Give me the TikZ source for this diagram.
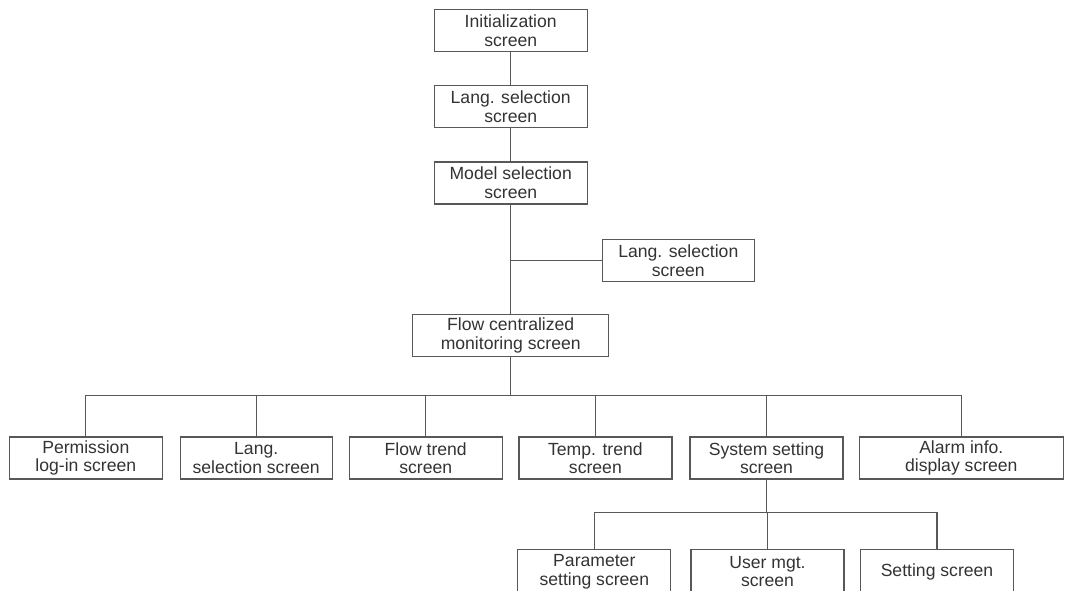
\documentclass[tikz,border=0pt]{standalone}
\usepackage{fontspec}
\setmainfont{Liberation Sans}
\definecolor{linegray}{HTML}{585858}
\definecolor{textgray}{HTML}{333333}
\tikzset{
    screen/.style={draw=linegray, line width=1.2pt, text=textgray, align=center,
        minimum width=153pt, minimum height=42pt, inner sep=0pt,
        font=\fontsize{17.6}{18.6}\selectfont},
    link/.style={draw=linegray, line width=1.2pt}
}
\begin{document}
\begin{tikzpicture}[x=1pt,y=1pt]
            \useasboundingbox (0,0) rectangle (1065,-590);

            \node (init) at (510.7,-30.5)[screen]{Initialization\\screen};
            \node (langa) at (510.7,-106.7)[screen]{Lang. selection\\screen};
            \node (model) at (510.7,-183)[screen]{Model selection\\screen};
            \node (langb) at (678.3,-260.7)[screen,minimum width=152pt]{Lang. selection\\screen};
            \node (flow) at (510.7,-335.5)[screen,minimum width=196pt]{Flow centralized\\monitoring screen};

            \coordinate (fork) at (510.7,-260.7);
            \coordinate (bus) at (510.7,-395.3);

            \draw[link] (init) -- (langa);
            \draw[link] (langa) -- (model);
            \draw[link] (model) -- (flow);
            \draw[link] (fork) -- (langb.west);

            \foreach \n/\x/\w/\t in  {perm/85.8/153/{Permission\\log-in screen},
                                     langc/256.2/152/{Lang.\\selection screen},
                                     ftrend/425.7/153/{Flow trend\\screen},
                                     ttrend/595.4/153/{Temp. trend\\screen},
                                     sys/766.5/153/{System setting\\screen},
                                     alarm/961.3/204/{Alarm info.\\display screen}}
            {
                \node (\n) at (\x,-458)[screen,minimum width=\w pt]{\t};
                \draw[link] (flow.south) -- (bus) -| (\n.north);
            }

            \coordinate (subbus) at (766.5,-512.3);
            \foreach \n/\x/\t in  {param/594.3/{Parameter\\setting screen},
                                  user/767.5/{User mgt.\\screen},
                                  setting/937/{Setting screen}}
            {
                \node (\n) at (\x,-571.5)[screen,minimum height=44pt]{\t};
                \draw[link] (sys.south) -- (subbus) -| (\n.north);
            }
        \end{tikzpicture}
\end{document}
